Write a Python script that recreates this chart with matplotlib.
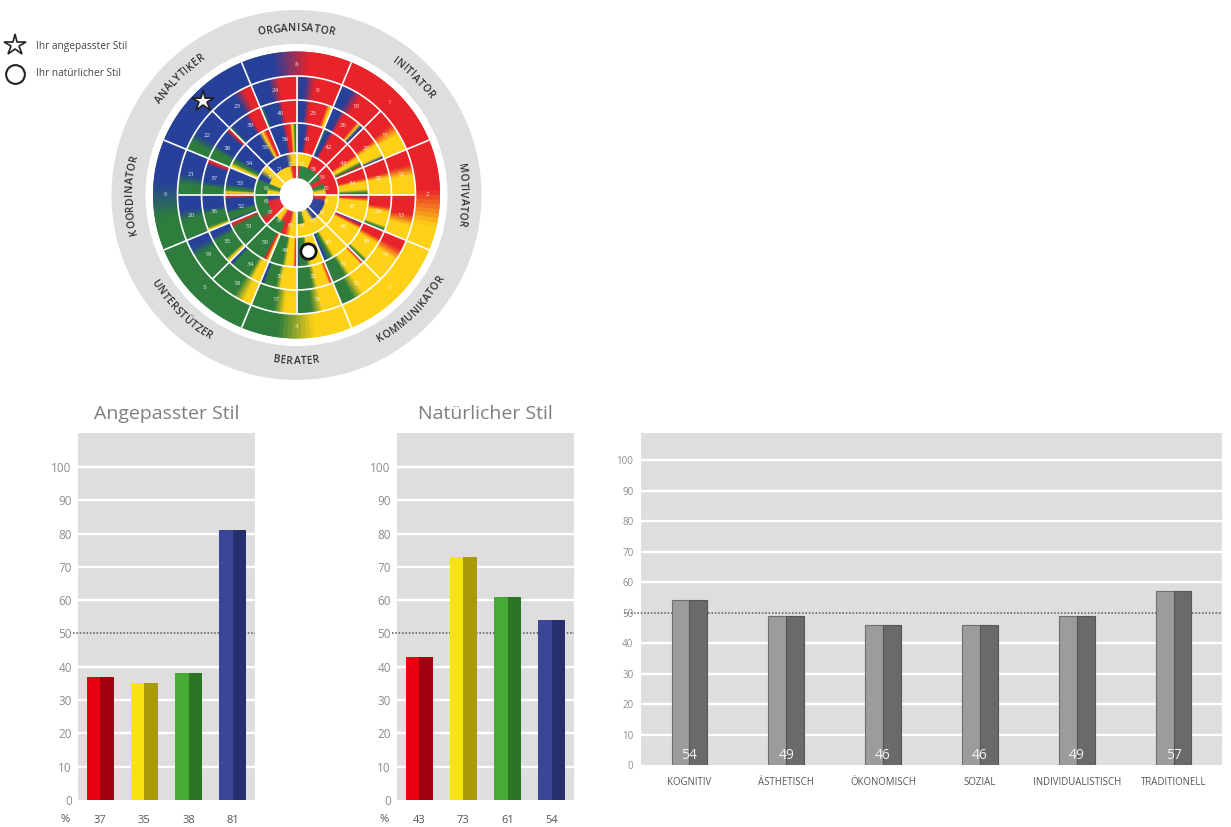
import numpy as np
import matplotlib
matplotlib.use("Agg")
import matplotlib.pyplot as plt
from matplotlib.colors import to_rgb
from matplotlib.font_manager import FontProperties
from matplotlib.textpath import TextPath

W, H = 1231, 827
plt.rcParams['font.family'] = ['Open Sans', 'DejaVu Sans']

# ---------- data ----------
ROLE_NAMES = ["ORGANISATOR", "INITIATOR", "MOTIVATOR", "KOMMUNIKATOR",
              "BERATER", "UNTERSTÜTZER", "KOORDINATOR", "ANALYTIKER"]
COLS = {'B': '#27409a', 'R': '#e8232a', 'Y': '#fdd116', 'G': '#2e7d3d'}

# bands clockwise inside each cell: letter + end percent
RING1_LABELS = ["8", "1", "2", "3", "4", "5", "6", "7"]
RING1 = ["B45 R", "R", "R62 Y", "Y", "Y50 G", "G", "G45 B", "B"]
RING2_LABELS = [str(i) for i in range(9, 25)]
RING2 = ["B30 R", "B35 R", "R50 Y", "R45 Y", "R55 Y", "R35 Y", "Y60 G", "Y55 G",
         "Y38 G", "Y30 G", "G70 B", "G55 B", "G35 B", "G30 B", "B70 R", "B50 R"]
RING3_LABELS = [str(i) for i in range(25, 41)]
RING3 = ["B30 R88 Y", "B30 R80 Y88 B", "R50 Y92 B", "R45 Y", "R40 Y90 G", "R30 Y90 G",
         "R7 Y55 G", "R8 Y50 G", "Y50 G90 B", "Y30 G90 B", "Y10 G75 B", "Y8 G55 B",
         "G30 B88 R", "G35 B90 R", "G6 B60 R", "G7 B55 R"]
RING4_LABELS = [str(i) for i in range(41, 57)]
RING4 = ["G7 B40 R", "G8 B30 R", "R55 Y80 G92 R", "R45 Y85 G", "B5 R18 Y", "B8 R20 Y",
         "Y65 G85 B", "Y55 G90 B", "R8 Y45 G", "Y10 R20 G", "G85 R", "B8 G40 B90 R",
         "R5 Y15 G35 B", "Y15 G35 B", "B65 Y80 R", "B55 R80 Y90 G"]
RING5_LABELS = [str(i) for i in range(57, 73)]
RING5_OUT = ["Y", "R", "R", "R", "Y", "Y", "Y", "Y",
             "Y60 R", "G", "R50 G", "G", "G", "B50 Y", "B", "B50 Y"]
RING5_IN = ["R30 G", "G", "G50 R", "G50 Y", "R50 B", "B", "B50 Y", "Y30 G",
            "Y50 R", "R40 Y", "R", "R50 B", "Y50 G", "Y", "Y", "Y50 R"]

STAR_POS = (315.0, 132.6)     # angle, radius on the wheel
CIRCLE_POS = (168.4, 57.0)

YTICKS = list(range(0, 101, 10))
GRID_VALUES = [v for v in YTICKS if v not in (0, 50)]
ADAPTED = [37, 35, 38, 81]
NATURAL = [43, 73, 61, 54]
LIGHT = ['#e60012', '#f7e30f', '#45ab35', '#3c4696']
DARK = ['#a00010', '#a89a0a', '#2b7524', '#282f6e']
MOTIVES = ["KOGNITIV", "ÄSTHETISCH", "ÖKONOMISCH", "SOZIAL", "INDIVIDUALISTISCH", "TRADITIONELL"]
MOTIVE_VALUES = [54, 49, 46, 46, 49, 57]

# ---------- helpers ----------
fig = plt.figure(figsize=(W / 100, H / 100), dpi=100, facecolor='white')


def px_axes(x0, y0, x1, y1, **kw):
    return fig.add_axes([x0 / W, 1 - y1 / H, (x1 - x0) / W, (y1 - y0) / H], **kw)


def cell_colours(spec, fracs, soft):
    bands = []
    for tok in spec.split():
        bands.append((tok[0], float(tok[1:]) / 100 if len(tok) > 1 else 1.0))
    pos, rgb = [], []
    prev_end = 0.0
    for i, (c, end) in enumerate(bands):
        start = prev_end
        if i > 0:
            h = min(soft, 0.45 * (start - (bands[i - 2][1] if i > 1 else 0)), 0.45 * (end - start))
            start = start + h
        stop = end
        if i < len(bands) - 1:
            h = min(soft, 0.45 * (end - prev_end), 0.45 * (bands[i + 1][1] - end))
            stop = end - h
        pos += [start, stop]
        rgb += [to_rgb(COLS[c])] * 2
        prev_end = end
    pos = np.array(pos)
    rgb = np.array(rgb)
    return np.stack([np.interp(fracs, pos, rgb[:, j]) for j in range(3)], axis=1)


def draw_ring(ax, specs, r0, r1, start_deg, soft, steps=24):
    span = 360.0 / len(specs)
    f = (np.arange(steps) + 0.5) / steps
    dw = span / steps
    for k, spec in enumerate(specs):
        a = start_deg + k * span
        cols = cell_colours(spec, f, soft)
        # each step overlaps the next so no seams appear between the slices
        for fi, c in zip(f, cols):
            ax.bar(np.radians(a + fi * span + 0.5 * dw), r1 - r0, width=np.radians(dw * 2.0), bottom=r0,
                   color=[c], linewidth=0, zorder=2)


# ---------- wheel ----------
R = 186
wheel = px_axes(296.5 - R, 195 - R, 296.5 + R, 195 + R, projection='polar')
wheel.set_theta_zero_location('N')
wheel.set_theta_direction(-1)
wheel.set_axis_off()
wheel.bar(0, 185 - 151, width=2 * np.pi, bottom=151, color='#dedede', linewidth=0, zorder=1)

draw_ring(wheel, RING1, 119, 143.5, -22.5, 0.17)
draw_ring(wheel, RING2, 95, 119, 0, 0.12)
draw_ring(wheel, RING3, 72, 95, 0, 0.07)
draw_ring(wheel, RING4, 42, 72, 0, 0.07)
draw_ring(wheel, RING5_OUT, 29, 42, 0, 0.2)
draw_ring(wheel, RING5_IN, 17, 29, 0, 0.15)

lw_white = dict(color='white', lw=1.2, zorder=3, solid_capstyle='butt')
circ = np.linspace(0, 2 * np.pi, 720)
for r in (42, 72, 95, 119):
    wheel.plot(circ, np.full_like(circ, r), **lw_white)
for a in np.arange(0, 360, 22.5):
    wheel.plot(np.radians([a, a]), [42, 119], **lw_white)
for a in np.arange(0, 360, 45):
    wheel.plot(np.radians([a, a]), [17, 42], **lw_white)
    wheel.plot(np.radians([a + 22.5, a + 22.5]), [119, 143.5], **lw_white)

for labels, r, fs, start, n in ((RING1_LABELS, 131, 4.5, 0, 8), (RING2_LABELS, 107, 4.5, 11.25, 16),
                                (RING3_LABELS, 83.5, 4.5, 11.25, 16), (RING4_LABELS, 57, 4.5, 11.25, 16),
                                (RING5_LABELS, 31, 3.5, 11.25, 16)):
    for k, s in enumerate(labels):
        a = start + k * 360.0 / n
        wheel.text(np.radians(a), r, s, color='white', alpha=0.85, fontsize=fs, ha='center', va='center', zorder=4)

# curved role names
prop = FontProperties(family='Open Sans', weight='semibold', size=7.5)
fs_px = 7.5 * 100 / 72


def advance(ch):
    a = TextPath((0, 0), "H" + ch + "H", size=fs_px, prop=prop).get_extents().width
    b = TextPath((0, 0), "HH", size=fs_px, prop=prop).get_extents().width
    return a - b


for k, name in enumerate(ROLE_NAMES):
    centre = k * 45.0
    inward = centre in (135.0, 180.0, 225.0)
    rtext = 166.5
    adv = [advance(ch) + 0.35 for ch in name]
    s = -sum(adv) / 2
    for ch, w in zip(name, adv):
        mid = s + w / 2
        s += w
        da = np.degrees(mid / rtext)
        a = centre - da if inward else centre + da
        rot = 180 - a if inward else -a
        wheel.text(np.radians(a), rtext, ch, fontproperties=prop, color='#303030', rotation=rot,
                   rotation_mode='anchor', ha='center', va='center', zorder=4)

wheel.plot(np.radians(STAR_POS[0]), STAR_POS[1], marker='*', ms=16, mfc='white', mec='#222222', mew=1.2, zorder=6)
wheel.plot(np.radians(CIRCLE_POS[0]), CIRCLE_POS[1], marker='o', ms=11, mfc='white', mec='#111111', mew=2.0, zorder=6)
wheel.set_rlim(0, R)


# ---------- bars ----------
def style_axes(ax, ymax, x_labels, tick_fs, x_fs, x_col, pad):
    ax.set_facecolor('#dedede')
    for sp in ax.spines.values():
        sp.set_visible(False)
    ax.set_ylim(0, ymax)
    ax.hlines(GRID_VALUES, 0, 1, transform=ax.get_yaxis_transform(), color='white', lw=1.7, zorder=1)
    ax.axhline(50, xmin=-0.03, xmax=1, color='#555555', lw=1.1, ls=(0, (1, 1.2)), clip_on=False, zorder=1.5)
    ax.set_yticks(YTICKS)
    ax.tick_params(axis='y', length=0, labelsize=tick_fs, labelcolor='#8c8c8c', pad=pad)
    ax.set_xticks(range(len(x_labels)))
    ax.set_xticklabels(x_labels, fontsize=x_fs, color=x_col)
    ax.set_xlim(-0.5, len(x_labels) - 0.5)


def style_bars(x0, title, values):
    ax = px_axes(x0, 433, x0 + 177, 800)
    style_axes(ax, 110.2, [str(v) for v in values], 8.5, 8, '#555555', 4.5)
    ax.tick_params(axis='x', length=0, pad=11)
    w = 0.61
    x = np.arange(len(values))
    ax.bar(x - w / 4, values, w / 2, color=LIGHT, zorder=3)
    ax.bar(x + w / 4, values, w / 2, color=DARK, zorder=3)
    ax.set_title(title, fontsize=14, color='#7f7f7f', pad=10)
    return ax


style_bars(78, "Angepasster Stil", ADAPTED)
style_bars(397, "Natürlicher Stil", NATURAL)

ax3 = px_axes(641, 433, 1222, 765)
style_axes(ax3, 108.9, MOTIVES, 7, 6.9, '#555555', 5.5)
ax3.tick_params(axis='x', length=0, pad=8.5)
xm = np.arange(len(MOTIVES))
bw = 0.37
ax3.bar(xm - bw / 4, MOTIVE_VALUES, bw / 2, color='#9c9c9c', edgecolor='#6e6e6e', lw=0.8, zorder=3)
ax3.bar(xm + bw / 4, MOTIVE_VALUES, bw / 2, color='#6a6a6a', edgecolor='#555555', lw=0.8, zorder=3)
for x, v in zip(xm, MOTIVE_VALUES):
    ax3.text(x, 3, str(v), color='#f2f2f2', fontsize=10, ha='center', va='center', zorder=4)

# ---------- overlay in pixels: legend and % ----------
ov = fig.add_axes([0, 0, 1, 1], facecolor='none')
ov.set_xlim(0, W)
ov.set_ylim(H, 0)
ov.set_axis_off()
ov.plot(15, 45, marker='*', ms=16, mfc='white', mec='#222222', mew=1.2)
ov.plot(15, 74, marker='o', ms=13.5, mfc='white', mec='#222222', mew=1.5)
ov.text(36, 46, "Ihr angepasster Stil", fontsize=7.3, color='#444444', va='center')
ov.text(36, 73, "Ihr natürlicher Stil", fontsize=7.3, color='#444444', va='center')
ov.text(65, 819, "%", fontsize=8, color='#555555', ha='center', va='center')
ov.text(384, 819, "%", fontsize=8, color='#555555', ha='center', va='center')

fig.savefig('out.png', dpi=100, facecolor='white')
